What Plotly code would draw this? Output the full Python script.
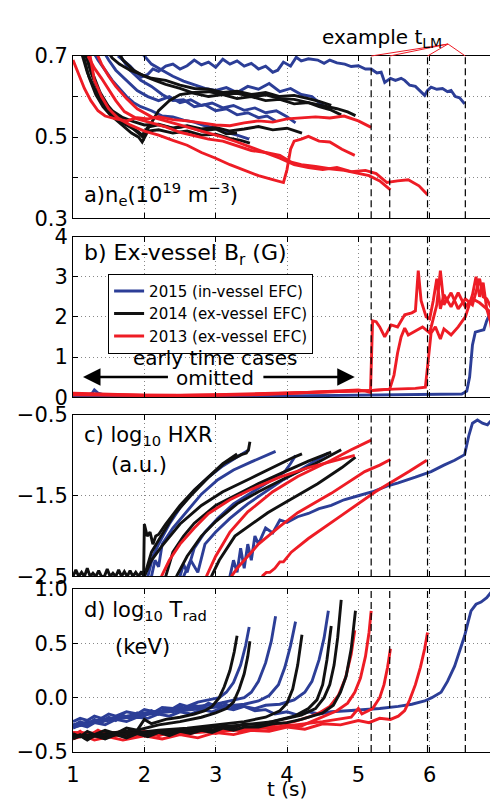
import plotly.graph_objects as go

BLUE = '#2C3E97'
BLACK = '#111111'
RED = '#EE1C25'
FONT = 'DejaVu Sans'

T_LM = [5.18, 5.44, 5.97, 6.5]
X_TICKS = [1, 2, 3, 4, 5, 6, 7]

# ---------------- panel a: n_e ----------------
NE_2015 = [
    [(1.25,0.72),(1.35,0.69),(1.45,0.665),(1.55,0.64),(1.65,0.62),(1.75,0.6),(1.85,0.585),(1.95,0.575),(2.1,0.565),(2.25,0.552),(2.4,0.55),(2.55,0.542),(2.7,0.537),(2.85,0.528),(3.0,0.522),(3.15,0.512),(3.3,0.505),(3.47,0.495)],
    [(1.4,0.72),(1.5,0.69),(1.6,0.665),(1.75,0.64),(1.9,0.615),(2.05,0.6),(2.2,0.59),(2.35,0.6),(2.5,0.585),(2.65,0.592),(2.8,0.578),(2.95,0.584),(3.1,0.572),(3.25,0.578),(3.4,0.566),(3.55,0.572),(3.7,0.56),(3.85,0.565),(4.0,0.55),(4.12,0.535)],
    [(1.6,0.72),(1.7,0.69),(1.8,0.665),(1.95,0.64),(2.1,0.625),(2.25,0.605),(2.4,0.59),(2.55,0.592),(2.7,0.575),(2.85,0.58),(3.0,0.565),(3.15,0.57),(3.3,0.555),(3.45,0.56),(3.6,0.548),(3.72,0.552),(3.84,0.54)],
    [(1.9,0.72),(2.0,0.7),(2.1,0.68),(2.25,0.665),(2.4,0.65),(2.55,0.638),(2.7,0.628),(2.85,0.62),(3.0,0.615),(3.15,0.622),(3.3,0.61),(3.45,0.625),(3.6,0.618),(3.75,0.632),(3.9,0.612),(4.05,0.62),(4.2,0.605),(4.35,0.6),(4.45,0.585),(4.58,0.57)],
    [(1.63,0.70),(1.72,0.688),(1.8,0.675),(1.88,0.66),(1.96,0.648),(2.05,0.655),(2.12,0.668),(2.2,0.662),(2.3,0.675),(2.4,0.68),(2.5,0.668),(2.6,0.676),(2.7,0.69),(2.8,0.678),(2.9,0.685),(3.0,0.672),(3.1,0.692),(3.2,0.68),(3.3,0.688),(3.4,0.675),(3.5,0.682),(3.6,0.668),(3.7,0.675),(3.8,0.66),(3.87,0.665),(3.95,0.685),(4.05,0.675),(4.13,0.697),(4.2,0.688),(4.3,0.693),(4.43,0.69),(4.52,0.682),(4.6,0.69),(4.7,0.683),(4.81,0.68),(4.9,0.674),(5.0,0.676),(5.1,0.668),(5.18,0.668),(5.26,0.658),(5.32,0.66),(5.37,0.635),(5.45,0.645),(5.52,0.64),(5.6,0.645),(5.65,0.64),(5.72,0.628),(5.8,0.625),(5.87,0.612),(5.93,0.603),(5.97,0.615),(6.02,0.623),(6.1,0.618),(6.18,0.62),(6.25,0.612),(6.3,0.615),(6.36,0.6),(6.42,0.597),(6.49,0.582)],
]
NE_2014 = [
    [(1.1,0.72),(1.2,0.66),(1.3,0.62),(1.4,0.59),(1.5,0.565),(1.6,0.548),(1.7,0.535),(1.8,0.525),(1.9,0.515),(1.97,0.505),(2.05,0.525),(2.2,0.53),(2.4,0.522),(2.6,0.527),(2.8,0.515),(3.0,0.52),(3.15,0.508),(3.3,0.51)],
    [(1.12,0.72),(1.22,0.65),(1.32,0.605),(1.42,0.575),(1.52,0.555),(1.62,0.54),(1.72,0.525),(1.82,0.51),(1.92,0.5),(1.97,0.488),(2.05,0.515),(2.2,0.518),(2.4,0.51),(2.6,0.515),(2.8,0.505),(3.0,0.507),(3.2,0.497),(3.35,0.492),(3.48,0.485)],
    [(1.15,0.72),(1.25,0.66),(1.35,0.615),(1.45,0.585),(1.55,0.565),(1.7,0.548),(1.85,0.538),(2.0,0.53),(2.2,0.532),(2.4,0.522),(2.6,0.528),(2.8,0.52),(3.0,0.524),(3.2,0.515),(3.4,0.52),(3.6,0.526),(3.8,0.518),(4.0,0.522),(4.21,0.51)],
    [(1.45,0.72),(1.55,0.695),(1.65,0.68),(1.8,0.665),(1.95,0.655),(2.1,0.645),(2.3,0.64),(2.5,0.628),(2.7,0.62),(2.9,0.618),(3.1,0.61),(3.3,0.613),(3.5,0.605),(3.7,0.61),(3.9,0.6),(4.1,0.603),(4.3,0.595),(4.45,0.588),(4.62,0.578)],
    [(1.6,0.72),(1.7,0.69),(1.85,0.665),(2.0,0.65),(2.15,0.64),(2.3,0.63),(2.5,0.62),(2.7,0.608),(2.9,0.6),(3.1,0.605),(3.3,0.595),(3.5,0.6),(3.7,0.59),(3.9,0.593),(4.1,0.582),(4.3,0.585),(4.45,0.575),(4.6,0.568),(4.76,0.555)],
    [(1.18,0.72),(1.28,0.655),(1.38,0.61),(1.5,0.575),(1.62,0.55),(1.75,0.535),(1.88,0.515),(1.98,0.5),(2.08,0.53),(2.2,0.565),(2.35,0.59),(2.5,0.605),(2.7,0.61),(2.9,0.612),(3.1,0.605),(3.3,0.608),(3.5,0.6),(3.7,0.604),(3.9,0.595),(4.1,0.593),(4.3,0.585),(4.5,0.578),(4.7,0.57),(4.85,0.562),(4.96,0.553)],
]
NE_2013 = [
    [(1.0,0.69),(1.08,0.655),(1.16,0.62),(1.25,0.59),(1.35,0.565),(1.45,0.552),(1.6,0.545),(1.75,0.54),(1.9,0.548),(2.05,0.545),(2.2,0.55),(2.4,0.543),(2.6,0.54),(2.8,0.535),(3.0,0.53),(3.2,0.528),(3.4,0.535),(3.6,0.54),(3.8,0.537),(4.0,0.545),(4.2,0.548),(4.4,0.55),(4.6,0.547),(4.8,0.552),(5.0,0.54),(5.18,0.524)],
    [(1.22,0.72),(1.3,0.64),(1.4,0.6),(1.5,0.57),(1.63,0.547),(1.8,0.53),(2.0,0.515),(2.2,0.505),(2.4,0.492),(2.6,0.48),(2.8,0.462),(3.0,0.448),(3.2,0.432),(3.4,0.418),(3.6,0.405),(3.8,0.395),(3.95,0.388),(4.0,0.42),(4.05,0.47),(4.1,0.49),(4.2,0.495),(4.3,0.502),(4.45,0.49),(4.6,0.488),(4.77,0.47),(4.95,0.455)],
    [(1.21,0.7),(1.3,0.67),(1.4,0.645),(1.49,0.62),(1.6,0.59),(1.72,0.563),(1.9,0.545),(2.1,0.535),(2.3,0.525),(2.5,0.512),(2.7,0.503),(2.9,0.495),(3.1,0.49),(3.3,0.478),(3.5,0.467),(3.7,0.462),(3.9,0.455),(4.06,0.438),(4.2,0.432),(4.4,0.428),(4.6,0.422),(4.8,0.418),(5.0,0.41),(5.15,0.405),(5.3,0.392),(5.45,0.37)],
    [(1.3,0.72),(1.4,0.68),(1.5,0.65),(1.6,0.625),(1.75,0.595),(1.9,0.57),(2.1,0.55),(2.3,0.54),(2.5,0.53),(2.7,0.52),(2.9,0.51),(3.1,0.5),(3.3,0.488),(3.5,0.475),(3.7,0.462),(3.9,0.448),(4.1,0.432),(4.3,0.425),(4.5,0.42),(4.7,0.425),(4.9,0.415),(5.1,0.418),(5.25,0.41),(5.4,0.388),(5.55,0.392),(5.7,0.395),(5.85,0.38),(5.97,0.358)],
]

# ---------------- panel b: ex-vessel Br ----------------
BR_2015 = [
    [(1.0,0.01),(1.5,0.01),(2.0,0.0),(2.5,0.01),(3.0,0.01),(3.5,0.02),(4.0,0.02),(4.6,0.03)],
    [(1.0,0.03),(1.2,0.04),(1.27,0.1),(1.3,0.18),(1.35,0.1),(1.45,0.05),(1.7,0.03),(2.0,0.02),(2.5,0.02),(3.0,0.01),(3.5,0.02),(4.0,0.02),(4.5,0.03),(5.0,0.04),(5.5,0.05),(6.0,0.06),(6.3,0.07),(6.45,0.08),(6.52,0.15),(6.56,0.5),(6.6,1.3),(6.64,1.62),(6.7,1.65),(6.76,1.68),(6.8,1.9),(6.85,2.1),(6.9,1.95),(6.94,2.45),(6.97,2.2),(7.0,2.05)],
]
BR_2013 = [
    [(1.0,0.1),(1.2,0.09),(1.4,0.07),(1.6,0.06),(1.8,0.05),(2.0,0.05),(2.5,0.04),(3.0,0.05),(3.5,0.06),(4.0,0.09),(4.3,0.12),(4.6,0.15),(4.8,0.16),(5.0,0.18),(5.1,0.15),(5.17,0.12),(5.2,1.9),(5.25,1.88),(5.3,1.75),(5.37,1.5),(5.46,1.8),(5.55,1.75),(5.65,2.05),(5.75,2.1),(5.8,2.15),(5.84,3.15),(5.88,2.4),(5.95,2.0),(6.0,1.95),(6.05,2.4),(6.1,2.95),(6.15,2.2),(6.2,2.55),(6.3,2.25),(6.4,2.6),(6.5,2.25),(6.6,2.45),(6.7,2.35),(6.8,2.2),(6.9,2.05),(7.0,2.0)],
    [(1.0,0.08),(1.5,0.06),(2.0,0.04),(2.5,0.05),(3.0,0.05),(3.5,0.07),(4.0,0.1),(4.5,0.13),(5.0,0.15),(5.2,0.17),(5.44,0.2),(5.5,0.55),(5.55,1.1),(5.6,1.5),(5.65,1.72),(5.7,1.55),(5.8,1.65),(5.9,1.75),(6.0,1.6),(6.05,1.95),(6.1,2.3),(6.15,3.15),(6.2,2.3),(6.3,2.6),(6.4,2.2),(6.5,2.45),(6.6,2.3),(6.7,2.95),(6.75,2.5),(6.8,2.45),(6.9,2.1),(7.0,1.3)],
    [(1.0,0.06),(1.5,0.05),(2.0,0.04),(2.5,0.04),(3.0,0.06),(3.5,0.08),(4.0,0.1),(4.5,0.12),(5.0,0.15),(5.5,0.2),(5.8,0.22),(5.94,0.25),(5.98,0.9),(6.02,1.6),(6.08,1.75),(6.15,1.45),(6.2,1.7),(6.3,1.55),(6.4,1.75),(6.5,2.0),(6.6,2.55),(6.65,3.0),(6.7,2.5),(6.75,2.85),(6.8,2.2),(6.85,1.9),(6.9,1.3),(6.95,0.8),(7.0,0.5)],
]

# ---------------- panel c: log10 HXR ----------------
HXR_2015 = [
    [(2.05,-2.5),(2.12,-2.25),(2.2,-2.1),(2.35,-1.85),(2.5,-1.65),(2.7,-1.43),(2.9,-1.27),(3.1,-1.13),(3.3,-1.02),(3.47,-0.93)],
    [(2.1,-2.5),(2.15,-2.3),(2.2,-2.38),(2.25,-2.1),(2.4,-1.9),(2.57,-1.72),(2.8,-1.48),(3.03,-1.3),(3.25,-1.18),(3.5,-1.08),(3.7,-1.0),(3.84,-0.95)],
    [(2.5,-2.5),(2.55,-2.35),(2.6,-2.45),(2.7,-2.15),(2.85,-1.95),(3.03,-1.78),(3.25,-1.6),(3.5,-1.46),(3.75,-1.32),(3.97,-1.2),(4.05,-1.1),(4.12,-1.0)],
    [(2.55,-2.5),(2.65,-2.3),(2.75,-2.45),(2.85,-2.1),(3.0,-1.95),(3.2,-1.78),(3.45,-1.6),(3.7,-1.45),(3.95,-1.3),(4.2,-1.17),(4.4,-1.07),(4.58,-0.97)],
    [(3.2,-2.5),(3.25,-2.3),(3.3,-2.45),(3.35,-2.15),(3.4,-2.4),(3.45,-2.1),(3.5,-2.3),(3.55,-2.0),(3.6,-2.1),(3.7,-1.9),(3.8,-1.96),(3.9,-1.8),(4.0,-1.83),(4.15,-1.76),(4.3,-1.72),(4.45,-1.66),(4.62,-1.62),(4.8,-1.55),(5.0,-1.5),(5.2,-1.45),(5.4,-1.38),(5.56,-1.34),(5.8,-1.27),(6.02,-1.2),(6.2,-1.12),(6.35,-1.06),(6.49,-0.99),(6.55,-0.75),(6.6,-0.6),(6.67,-0.56),(6.74,-0.6),(6.81,-0.62),(6.88,-0.55),(6.95,-0.5),(6.98,-0.75),(7.0,-0.9)],
]
HXR_2014 = [
    [(1.0,-2.5),(1.04,-2.42),(1.08,-2.5),(1.12,-2.45),(1.16,-2.5),(1.2,-2.4),(1.24,-2.5),(1.28,-2.46),(1.32,-2.5),(1.36,-2.43),(1.4,-2.5),(1.44,-2.5),(1.48,-2.41),(1.52,-2.5),(1.56,-2.46),(1.6,-2.5),(1.64,-2.42),(1.68,-2.5),(1.72,-2.44),(1.76,-2.5),(1.8,-2.43),(1.84,-2.5),(1.88,-2.45),(1.92,-2.5),(1.96,-2.44),(1.99,-2.5),(2.0,-1.85),(2.04,-2.0),(2.08,-1.95),(2.12,-2.1),(2.16,-2.0),(2.2,-1.98),(2.3,-1.85),(2.5,-1.62),(2.7,-1.43),(2.9,-1.26),(3.1,-1.1),(3.3,-0.98)],
    [(2.0,-2.5),(2.1,-2.2),(2.2,-2.05),(2.42,-1.73),(2.65,-1.5),(2.89,-1.28),(3.12,-1.1),(3.36,-0.99),(3.43,-0.97),(3.46,-0.93),(3.48,-0.83)],
    [(2.0,-2.5),(2.1,-2.3),(2.24,-2.13),(2.5,-1.85),(2.8,-1.62),(3.1,-1.45),(3.5,-1.28),(3.8,-1.15),(3.97,-1.07),(4.1,-1.02),(4.21,-0.98)],
    [(2.3,-2.5),(2.4,-2.2),(2.55,-2.0),(2.7,-1.84),(3.0,-1.62),(3.27,-1.5),(3.6,-1.35),(3.97,-1.2),(4.3,-1.07),(4.62,-0.96)],
    [(2.45,-2.5),(2.6,-2.25),(2.8,-2.0),(3.0,-1.82),(3.3,-1.6),(3.6,-1.45),(4.0,-1.27),(4.4,-1.1),(4.76,-0.93)],
    [(2.94,-2.5),(3.05,-2.3),(3.27,-2.0),(3.5,-1.85),(3.73,-1.71),(4.0,-1.57),(4.43,-1.35),(4.77,-1.15),(4.96,-1.02)],
]
HXR_2013 = [
    [(2.24,-2.5),(2.3,-2.38),(2.35,-2.3),(2.5,-2.1),(2.7,-1.9),(2.9,-1.72),(3.2,-1.55),(3.5,-1.42),(3.9,-1.27),(4.3,-1.15),(4.65,-1.07),(4.95,-1.0)],
    [(2.87,-2.5),(2.93,-2.38),(3.0,-2.25),(3.1,-2.1),(3.2,-1.95),(3.45,-1.7),(3.8,-1.45),(4.15,-1.26),(4.62,-1.06),(4.9,-0.93),(5.18,-0.81)],
    [(3.22,-2.5),(3.3,-2.4),(3.4,-2.3),(3.6,-2.1),(3.9,-1.88),(4.15,-1.71),(4.62,-1.47),(5.09,-1.2),(5.3,-1.12),(5.45,-1.05)],
    [(3.65,-2.5),(3.71,-2.45),(3.76,-2.45),(3.83,-2.4),(3.9,-2.32),(3.95,-2.32),(4.06,-2.2),(4.3,-2.03),(4.77,-1.74),(5.24,-1.45),(5.71,-1.2),(5.96,-1.06)],
]

# ---------------- panel d: log10 T_rad ----------------
TRAD_2015 = [
    [(1.0,-0.22),(1.1,-0.19),(1.2,-0.21),(1.3,-0.17),(1.4,-0.19),(1.5,-0.15),(1.6,-0.17),(1.75,-0.13),(1.9,-0.15),(2.0,-0.11),(2.15,-0.13),(2.25,-0.09),(2.4,-0.1),(2.5,-0.06),(2.6,-0.08),(2.75,-0.04),(2.9,-0.02),(3.05,0.0),(3.15,0.05),(3.25,0.14),(3.35,0.3),(3.42,0.48),(3.47,0.65)],
    [(1.0,-0.25),(1.25,-0.22),(1.5,-0.19),(1.75,-0.17),(2.0,-0.14),(2.25,-0.12),(2.5,-0.1),(2.75,-0.08),(3.0,-0.06),(3.2,-0.03),(3.4,0.0),(3.5,0.05),(3.6,0.15),(3.7,0.32),(3.78,0.52),(3.84,0.75)],
    [(1.0,-0.27),(1.3,-0.23),(1.6,-0.2),(1.9,-0.17),(2.2,-0.14),(2.5,-0.12),(2.8,-0.1),(3.1,-0.08),(3.4,-0.06),(3.6,-0.03),(3.75,0.02),(3.88,0.12),(3.97,0.28),(4.05,0.48),(4.12,0.7)],
    [(1.0,-0.28),(1.1,-0.25),(1.2,-0.27),(1.3,-0.23),(1.45,-0.25),(1.6,-0.2),(1.75,-0.22),(1.9,-0.18),(2.05,-0.19),(2.2,-0.15),(2.35,-0.17),(2.5,-0.13),(2.65,-0.15),(2.8,-0.11),(2.95,-0.13),(3.1,-0.09),(3.25,-0.11),(3.4,-0.08),(3.55,-0.1),(3.7,-0.07),(3.9,-0.06),(4.1,-0.02),(4.25,0.05),(4.35,0.15),(4.45,0.35),(4.52,0.55),(4.58,0.8)],
    [(1.0,-0.26),(1.1,-0.22),(1.2,-0.25),(1.3,-0.2),(1.4,-0.23),(1.5,-0.18),(1.6,-0.21),(1.7,-0.16),(1.8,-0.19),(1.9,-0.14),(2.0,-0.17),(2.1,-0.12),(2.2,-0.15),(2.3,-0.1),(2.4,-0.13),(2.5,-0.08),(2.6,-0.11),(2.7,-0.07),(2.8,-0.09),(2.9,-0.05),(3.0,-0.08),(3.1,-0.05),(3.25,-0.09),(3.4,-0.08),(3.55,-0.12),(3.7,-0.11),(3.83,-0.15),(4.0,-0.13),(4.15,-0.16),(4.3,-0.13),(4.45,-0.15),(4.62,-0.13),(4.85,-0.12),(5.09,-0.11),(5.3,-0.1),(5.56,-0.08),(5.75,-0.06),(5.93,-0.03),(6.03,0.0),(6.16,0.05),(6.25,0.15),(6.35,0.29),(6.42,0.42),(6.49,0.57),(6.54,0.7),(6.58,0.8),(6.65,0.86),(6.72,0.88),(6.8,0.92),(6.86,0.97),(6.93,0.99),(6.96,0.85),(7.0,0.66)],
]
TRAD_2014 = [
    [(1.0,-0.33),(1.1,-0.36),(1.2,-0.31),(1.3,-0.34),(1.45,-0.3),(1.6,-0.33),(1.75,-0.28),(1.9,-0.3),(2.0,-0.2),(2.1,-0.24),(2.3,-0.2),(2.5,-0.18),(2.7,-0.15),(2.85,-0.12),(2.95,-0.08),(3.05,0.0),(3.12,0.1),(3.2,0.25),(3.26,0.42),(3.3,0.57)],
    [(1.0,-0.35),(1.3,-0.34),(1.6,-0.32),(1.9,-0.3),(2.2,-0.25),(2.5,-0.22),(2.8,-0.18),(3.0,-0.14),(3.15,-0.1),(3.25,-0.04),(3.33,0.08),(3.4,0.22),(3.45,0.38),(3.48,0.52)],
    [(1.0,-0.36),(1.4,-0.35),(1.8,-0.33),(2.2,-0.3),(2.6,-0.28),(3.0,-0.25),(3.4,-0.22),(3.7,-0.18),(3.9,-0.12),(4.0,-0.05),(4.08,0.08),(4.15,0.3),(4.21,0.58)],
    [(1.0,-0.37),(1.1,-0.34),(1.2,-0.38),(1.3,-0.34),(1.45,-0.37),(1.6,-0.33),(1.75,-0.36),(1.9,-0.32),(2.05,-0.35),(2.2,-0.31),(2.35,-0.33),(2.5,-0.29),(2.65,-0.32),(2.8,-0.28),(2.95,-0.3),(3.1,-0.26),(3.25,-0.28),(3.4,-0.24),(3.6,-0.25),(3.8,-0.22),(4.1,-0.17),(4.3,-0.1),(4.42,-0.02),(4.5,0.12),(4.56,0.35),(4.62,0.66)],
    [(1.0,-0.36),(1.4,-0.35),(1.8,-0.33),(2.2,-0.32),(2.6,-0.3),(3.0,-0.27),(3.4,-0.25),(3.8,-0.22),(4.2,-0.16),(4.4,-0.1),(4.52,0.0),(4.6,0.12),(4.66,0.3),(4.71,0.55),(4.76,0.9)],
    [(1.0,-0.38),(1.1,-0.35),(1.2,-0.39),(1.3,-0.35),(1.45,-0.38),(1.6,-0.34),(1.75,-0.37),(1.9,-0.33),(2.05,-0.36),(2.2,-0.32),(2.35,-0.35),(2.5,-0.31),(2.65,-0.33),(2.8,-0.3),(2.95,-0.32),(3.1,-0.28),(3.25,-0.3),(3.4,-0.27),(3.6,-0.27),(3.8,-0.24),(4.0,-0.23),(4.2,-0.2),(4.5,-0.14),(4.65,-0.07),(4.75,0.05),(4.83,0.2),(4.9,0.45),(4.96,0.8)],
]
TRAD_2013 = [
    [(1.0,-0.32),(1.4,-0.33),(1.8,-0.31),(2.2,-0.32),(2.6,-0.3),(3.0,-0.3),(3.4,-0.28),(3.8,-0.25),(4.1,-0.22),(4.3,-0.18),(4.45,-0.14),(4.6,-0.08),(4.72,0.02),(4.82,0.18),(4.9,0.4),(4.95,0.62)],
    [(1.0,-0.35),(1.1,-0.31),(1.2,-0.36),(1.35,-0.3),(1.5,-0.35),(1.65,-0.32),(1.8,-0.36),(2.0,-0.31),(2.2,-0.35),(2.4,-0.31),(2.6,-0.34),(2.8,-0.3),(3.0,-0.33),(3.2,-0.29),(3.4,-0.31),(3.6,-0.27),(3.8,-0.29),(4.0,-0.25),(4.2,-0.26),(4.5,-0.18),(4.7,-0.12),(4.85,-0.05),(4.95,0.05),(5.03,0.18),(5.1,0.38),(5.15,0.6),(5.18,0.8)],
    [(1.0,-0.36),(1.5,-0.35),(2.0,-0.34),(2.5,-0.33),(3.0,-0.31),(3.5,-0.29),(4.0,-0.26),(4.5,-0.22),(4.9,-0.18),(5.0,-0.1),(5.05,-0.15),(5.2,-0.1),(5.3,0.0),(5.36,0.12),(5.41,0.28),(5.45,0.45)],
    [(1.0,-0.38),(1.15,-0.35),(1.3,-0.39),(1.5,-0.36),(1.7,-0.39),(2.0,-0.35),(2.25,-0.38),(2.5,-0.34),(2.75,-0.37),(3.0,-0.32),(3.25,-0.34),(3.5,-0.3),(3.75,-0.31),(4.0,-0.27),(4.25,-0.29),(4.5,-0.24),(4.75,-0.25),(5.0,-0.21),(5.15,-0.23),(5.3,-0.19),(5.45,-0.2),(5.56,-0.17),(5.65,-0.12),(5.72,-0.02),(5.8,0.12),(5.87,0.28),(5.93,0.45),(5.97,0.6)],
]

LEGEND_NAMES = ['2015 (in-vessel EFC)', '2014 (ex-vessel EFC)', '2013 (ex-vessel EFC)']

fig = go.Figure()


def add_group(traces, color, xa, ya, width=2.9):
    for tr in traces:
        fig.add_trace(go.Scatter(x=[p[0] for p in tr], y=[p[1] for p in tr], mode='lines',
                                 line=dict(color=color, width=width), showlegend=False,
                                 hoverinfo='skip', xaxis=xa, yaxis=ya))


add_group(NE_2015, BLUE, 'x', 'y')
add_group(NE_2014, BLACK, 'x', 'y')
add_group(NE_2013, RED, 'x', 'y')
add_group(BR_2015, BLUE, 'x2', 'y2')
add_group(BR_2013, RED, 'x2', 'y2')
add_group(HXR_2015, BLUE, 'x3', 'y3')
add_group(HXR_2014, BLACK, 'x3', 'y3')
add_group(HXR_2013, RED, 'x3', 'y3')
add_group(TRAD_2015, BLUE, 'x4', 'y4')
add_group(TRAD_2013, RED, 'x4', 'y4')
add_group(TRAD_2014, BLACK, 'x4', 'y4')

for name, col in zip(LEGEND_NAMES, [BLUE, BLACK, RED]):
    fig.add_trace(go.Scatter(x=[None], y=[None], mode='lines', name=name,
                             line=dict(color=col, width=3), xaxis='x2', yaxis='y2'))

domains = {1: [0.7669, 1.0], 2: [0.5098, 0.7406], 3: [0.2523, 0.4840], 4: [0.0, 0.2341]}
ycfg = {
    1: dict(range=[0.3, 0.7], tickvals=[0.3, 0.4, 0.5, 0.6, 0.7], ticktext=['0.3', ' ', '0.5', ' ', '0.7']),
    2: dict(range=[0, 4], tickvals=[0, 1, 2, 3, 4], ticktext=['0', '1', '2', '3', '4']),
    3: dict(range=[-2.5, -0.5], tickvals=[-2.5, -1.5, -0.5], ticktext=['\u22122.5', '\u22121.5', '\u22120.5']),
    4: dict(range=[-0.5, 1.0], tickvals=[-0.5, 0.0, 0.5, 1.0], ticktext=['\u22120.5', '0.0', '0.5', '1.0']),
}

common = dict(showline=True, linecolor='black', linewidth=1, mirror='ticks', ticks='inside',
              ticklen=5, tickcolor='black', showgrid=True, gridcolor='#888888', griddash='1px,3px',
              gridwidth=1, zeroline=False, tickfont=dict(family=FONT, size=21, color='black'))

layout = dict(width=498, height=800, plot_bgcolor='white', paper_bgcolor='white',
              margin=dict(l=65, r=5, t=48, b=56), font=dict(family=FONT, color='black'),
              showlegend=True,
              legend=dict(x=0.082, y=0.687, xanchor='left', yanchor='top', bgcolor='white',
                          bordercolor='black', borderwidth=1, font=dict(family=FONT, size=15),
                          tracegroupgap=0))
for i in range(1, 5):
    xs = '' if i == 1 else str(i)
    xa = dict(common, domain=[0, 1], anchor='y' + xs, range=[1, 7], tickvals=X_TICKS,
              ticktext=[str(v) for v in X_TICKS], showticklabels=(i == 4))
    if i == 4:
        xa['ticklabelstandoff'] = 4
    ya = dict(common, domain=domains[i], anchor='x' + xs, **ycfg[i])
    layout['xaxis' + xs] = xa
    layout['yaxis' + xs] = ya
fig.update_layout(**layout)

shapes = []
for i in range(1, 5):
    xs = '' if i == 1 else str(i)
    for t in T_LM:
        shapes.append(dict(type='line', xref='x' + xs, yref='y' + xs + ' domain', x0=t, x1=t, y0=0, y1=1,
                           line=dict(color='black', width=1.2, dash='7px,4px')))
for t in T_LM:
    shapes.append(dict(type='line', xref='x', yref='paper', x0=6.257, y0=1.0172, x1=t, y1=1.0,
                       line=dict(color=RED, width=1)))
fig.update_layout(shapes=shapes)

ann = [
    dict(text='example t<sub>LM</sub>', xref='x', yref='paper', x=5.33, y=1.048, showarrow=False,
         font=dict(size=20)),
    dict(text='a)n<sub>e</sub>(10<sup>19</sup> m<sup>\u22123</sup>)', xref='x', yref='y', x=1.12, y=0.36,
         xanchor='left', yanchor='middle', showarrow=False, font=dict(size=21)),
    dict(text='b) Ex-vessel B<sub>r</sub> (G)', xref='x2', yref='y2', x=1.12, y=3.56,
         xanchor='left', yanchor='middle', showarrow=False, font=dict(size=22)),
    dict(text='early time cases', xref='x2', yref='y2', x=2.99, y=0.97, showarrow=False, font=dict(size=20)),
    dict(text='omitted', xref='x2', yref='y2', x=2.99, y=0.47, showarrow=False, font=dict(size=20)),
    dict(text=' ', xref='x2', yref='y2', x=1.14, y=0.5, ax=2.38, ay=0.5, axref='x2', ayref='y2',
         showarrow=True, arrowhead=2, arrowsize=1.4, arrowwidth=2.5, arrowcolor='black'),
    dict(text=' ', xref='x2', yref='y2', x=4.95, y=0.5, ax=3.62, ay=0.5, axref='x2', ayref='y2',
         showarrow=True, arrowhead=2, arrowsize=1.4, arrowwidth=2.5, arrowcolor='black'),
    dict(text='c) log<sub>10</sub> HXR', xref='x3', yref='y3', x=1.12, y=-0.76,
         xanchor='left', yanchor='middle', showarrow=False, font=dict(size=21)),
    dict(text='(a.u.)', xref='x3', yref='y3', x=1.93, y=-1.12, showarrow=False, font=dict(size=21)),
    dict(text='d) log<sub>10</sub> T<sub>rad</sub>', xref='x4', yref='y4', x=1.12, y=0.8,
         xanchor='left', yanchor='middle', showarrow=False, font=dict(size=21)),
    dict(text='(keV)', xref='x4', yref='y4', x=1.97, y=0.47, showarrow=False, font=dict(size=21)),
    dict(text='t (s)', xref='paper', yref='paper', x=0.5, y=-0.053, yanchor='middle', showarrow=False,
         font=dict(size=20)),
]
fig.update_layout(annotations=ann)

fig.write_html('out.html')
